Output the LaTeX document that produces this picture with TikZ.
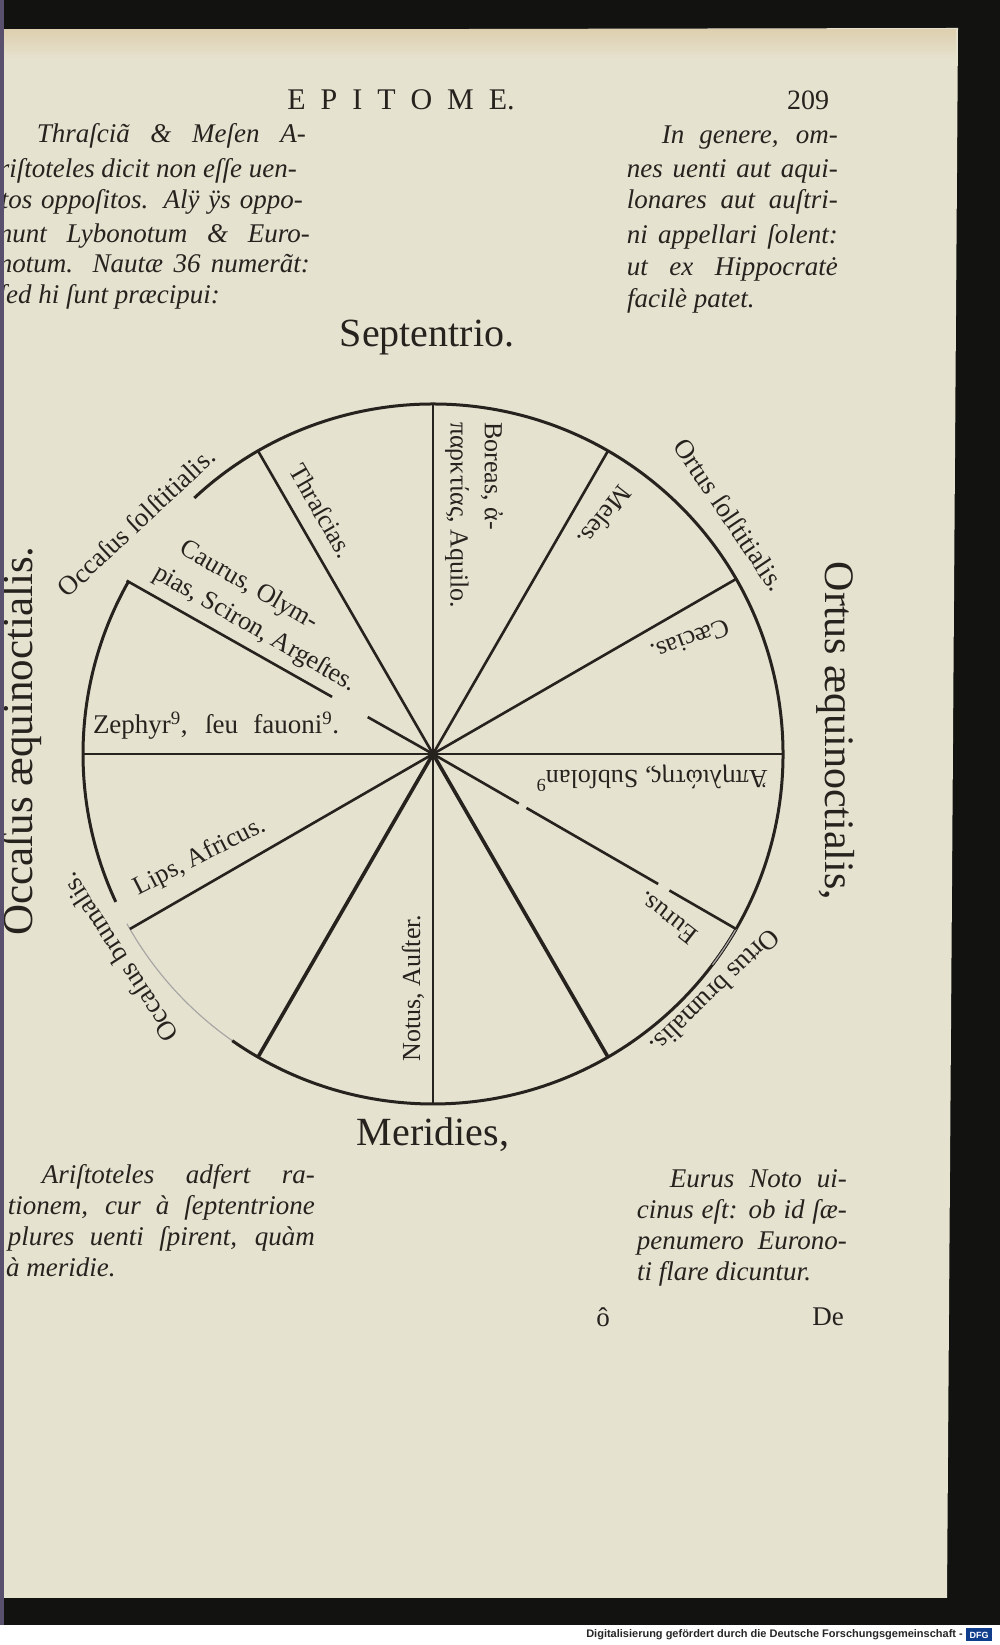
\documentclass[tikz,border=0pt]{standalone}
\usepackage{fontspec}
\setmainfont{Liberation Serif}
\newfontfamily\dfgfont{Liberation Sans}
\usepackage{tikz}
\usetikzlibrary{positioning}
\definecolor{paper}{RGB}{230,226,208}
\definecolor{paperedge}{RGB}{222,208,176}
\definecolor{ink}{RGB}{38,34,30}
\definecolor{scanblack}{RGB}{18,18,16}
\definecolor{gutter}{RGB}{88,80,108}
\definecolor{dfgblue}{RGB}{16,62,140}
\newcommand{\hdrgap}{\kern15pt}
\newcommand{\justline}[2]{\makebox[#1pt][s]{#2}}
\tikzset{
  rim/.style={draw=ink, line width=3pt},
  faintrim/.style={draw=ink!40, line width=1.2pt},
  ray/.style={draw=ink, line width=2.6pt},
  heavyray/.style={draw=ink, line width=3.6pt},
  windname/.style={text=ink, inner sep=0pt, font=\fontsize{26}{30}\selectfont},
  pointname/.style={text=ink, inner sep=0pt, font=\fontsize{27}{30}\selectfont},
  cardinal/.style={text=ink, inner sep=0pt, font=\fontsize{40}{44}\selectfont},
  sidecardinal/.style={text=ink, inner sep=0pt, font=\fontsize{42}{46}\selectfont},
  margnote/.style={text=ink, inner sep=0pt, font=\fontsize{27}{32}\selectfont\itshape},
  header/.style={text=ink, inner sep=0pt, font=\fontsize{30}{34}\selectfont}
}
\begin{document}
\begin{tikzpicture}[x=1pt, y=1pt]
  \useasboundingbox (0,0) rectangle (1000,1645);
  \fill[scanblack] (0,20) rectangle (1000,1645);
  \fill[white] (0,0) rectangle (1000,20);
  \fill[paper] (4,47) -- (947,47) -- (958,1617) -- (4,1615) -- cycle;
  \shade[top color=paperedge, bottom color=paper] (4,1585) rectangle (956,1615);

  \coordinate (C) at (433,891);

  \draw[rim] (C) ++(-37:350) arc[start angle=-37, end angle=133, radius=350];
  \draw[rim] (C) ++(150.5:350) arc[start angle=150.5, end angle=205, radius=350];
  \draw[faintrim] (C) ++(209:350) arc[start angle=209, end angle=235, radius=350];
  \draw[rim] (C) ++(235:350) arc[start angle=235, end angle=330, radius=350];
  \draw[faintrim] (C) ++(330:350) arc[start angle=330, end angle=323, radius=350];

  \foreach \a in {0,30,60,90,120,180,210,270}
    \draw[ray] (C) -- ++(\a:350);
  \draw[heavyray] (C) -- ++(240:350);
  \draw[heavyray] (C) -- ++(300:350);
  \draw[ray, dash pattern=on 99pt off 9pt on 152pt off 13pt on 90pt] (C) -- ++(-30:350);
  \draw[ray] ([shift={(150.5:352)}]C) -- ([shift={(150.5:116)}]C);
  \draw[ray] ([shift={(150.5:75)}]C) -- (C);

  \node[header] (title) at (401,1545) {E\hdrgap P\hdrgap I\hdrgap T\hdrgap O\hdrgap M\hdrgap E.};
  \node[header, font=\fontsize{28}{30}\selectfont] (folio) at (808,1545) {209};

  \foreach \rx/\ry/\lw/\txt [count=\i] in {
      306/1502/269/{Thraſciã \& Meſen A-},
      297/1467/298/{riſtoteles dicit non eſſe uen-},
      303/1436/302/{tos oppoſitos. Alÿ ÿs oppo-},
      310/1402/311/{nunt Lybonotum \& Euro-},
      310/1372/311/{notum. Nautæ 36 numerãt:}}
    \node[margnote, anchor=base east] (noteTL\i) at (\rx,\ry) {\justline{\lw}{\txt}};
  \node[margnote, anchor=base east] (noteTL6) at (220,1341) {ſed hi ſunt præcipui:};

  \foreach \ry/\lw/\txt [count=\i] in {
      1501/176/{In genere, om-},
      1467/211/{nes uenti aut aqui-},
      1436/211/{lonares aut auſtri-},
      1401/211/{ni appellari ſolent:},
      1369/211/{ut ex Hippocratė}}
    \node[margnote, anchor=base east] (noteTR\i) at (838,\ry) {\justline{\lw}{\txt}};
  \node[margnote, anchor=base west] (noteTR6) at (627,1337) {facilè patet.};

  \foreach \ry/\lw/\txt [count=\i] in {
      461/273/{Ariſtoteles adfert ra-},
      430/307/{tionem, cur à ſeptentrione},
      399/307/{plures uenti ſpirent, quàm}}
    \node[margnote, anchor=base east] (noteBL\i) at (315,\ry) {\justline{\lw}{\txt}};
  \node[margnote, anchor=base west] (noteBL4) at (6,368) {à meridie.};

  \foreach \ry/\lw/\txt [count=\i] in {
      457/177/{Eurus Noto ui-},
      426/210/{cinus eſt: ob id ſæ-},
      395/210/{penumero Eurono-}}
    \node[margnote, anchor=base east] (noteBR\i) at (847,\ry) {\justline{\lw}{\txt}};
  \node[margnote, anchor=base west] (noteBR4) at (637,364) {ti flare dicuntur.};

  \node[pointname] (catchO) at (603,328) {ô};
  \node[pointname] (catchDe) at (828,328) {De};

  \node[cardinal] (north) at (427,1307) {Septentrio.};
  \node[cardinal] (south) at (433,510) {Meridies,};
  \node[sidecardinal, font=\fontsize{43}{46}\selectfont, rotate=90] (west) at (22,904) {Occaſus æquinoctialis.};
  \node[sidecardinal, rotate=-90] (east) at (836,914) {Ortus æquinoctialis,};

  \node[pointname, rotate=43] (occSol) at (136,1123) {Occaſus ſolſtitialis.};
  \node[pointname, rotate=-56] (ortSol) at (730,1130) {Ortus ſolſtitialis.};
  \node[pointname, rotate=-136] (ortBru) at (715,653) {Ortus brumalis.};
  \node[pointname, rotate=123] (occBru) at (119,687) {Occaſus brumalis.};

  \node[windname, rotate=-90, anchor=west] (boreasA) at (492,1223) {Boreas, ἀ-};
  \node[windname, rotate=-90, anchor=west] (boreasB) at (457,1223) {παρκτίας, Aquilo.};
  \node[windname, rotate=-128] (meses) at (605,1128) {Meſes.};
  \node[windname, rotate=-160] (caecias) at (690,1005) {Cæcias.};
  \node[windname, rotate=180] (apeliotes) at (652,867) {Ἀπηλιώτης, Subſolan\textsuperscript{9}};
  \node[windname, rotate=142] (eurus) at (668,727) {Eurus.};
  \node[windname, rotate=90] (notus) at (413,657) {Notus, Auſter.};
  \node[windname, rotate=27] (lips) at (200,788) {Lips, Africus.};
  \node[windname, font=\fontsize{27}{30}\selectfont] (zephyr) at (216,919)
    {\justline{246}{Zephyr\textsuperscript{9}, ſeu fauoni\textsuperscript{9}.}};
  \node[windname, rotate=-30] (caurusA) at (249,1059) {Caurus, Olym-};
  \node[windname, rotate=-30] (caurusB) at (255,1016) {pias, Sciron, Argeſtes.};
  \node[windname, rotate=-60] (thrascias) at (322,1134) {Thraſcias.};

  \fill[gutter] (0,20) rectangle (4,1645);

  \node[font=\dfgfont\bfseries\fontsize{11}{12}\selectfont, text=black!85, anchor=east, inner sep=0pt] (dfgline) at (963,10)
    {Digitalisierung gefördert durch die Deutsche Forschungsgemeinschaft -};
  \node[fill=dfgblue, text=white, font=\dfgfont\bfseries\fontsize{9}{10}\selectfont,
    minimum width=26pt, minimum height=13pt, inner sep=0pt, right=3pt of dfgline] (dfglogo) {DFG};
\end{tikzpicture}
\end{document}
